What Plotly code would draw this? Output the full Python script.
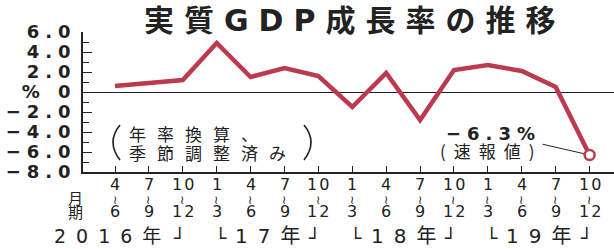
import plotly.graph_objects as go

# ---------------- data ----------------
start_months = ["4", "7", "10", "1", "4", "7", "10", "1", "4", "7", "10", "1", "4", "7", "10"]
end_months = ["6", "9", "12", "3", "6", "9", "12", "3", "6", "9", "12", "3", "6", "9", "12"]
growth = [0.6, 0.9, 1.2, 4.9, 1.5, 2.4, 1.6, -1.5, 1.9, -2.8, 2.2, 2.7, 2.1, 0.5, -6.3]
y_ticks = [6, 4, 2, 0, -2, -4, -6, -8]
y_tick_labels = ["6.0", "4.0", "2.0", "% 0", "−2.0", "−4.0", "−6.0", "−8.0"]
year_labels = ["2016年", "17年", "18年", "19年"]
year_first = [0, 3, 7, 11]
year_last = [2, 6, 10, 14]
title_text = "実質GDP成長率の推移"
note_lines = ["年率換算、", "季節調整済み"]
last_label = "−6.3%"
last_note = "(速報値)"

# ---------------- layout helpers ----------------
W, H = 614, 249
L, R, T, B = 83, 0, 32, 77
PW, PH = W - L - R, H - T - B


def px(xp):
    return (xp - L) / PW


def py(yp):
    return (H - B - yp) / PH


def sp(t, ls):
    return f'<span style="letter-spacing:{ls}px">{t}</span>' if ls else t


RED = "#bc3a4e"
INK = "#222222"
NUM = "DejaVu Sans, Noto Sans CJK JP, sans-serif"
JP = "Noto Sans CJK JP, sans-serif"

x = list(range(len(growth)))

fig = go.Figure()
fig.add_trace(go.Scatter(x=x, y=growth, mode="lines",
                         line=dict(color=RED, width=4.5), hoverinfo="skip"))
fig.add_trace(go.Scatter(x=[x[-1]], y=[growth[-1]], mode="markers",
                         marker=dict(symbol="circle", size=10, color="white",
                                     line=dict(color=RED, width=2.5)),
                         hoverinfo="skip"))

ann = []


def add(text, xx, yy, size, family=NUM, xref="paper", yref="paper",
        xanchor="center", yanchor="middle", ls=0, xshift=0, yshift=0, **kw):
    ann.append(dict(text=sp(text, ls), x=xx, y=yy, xref=xref, yref=yref,
                    xanchor=xanchor, yanchor=yanchor, showarrow=False,
                    xshift=xshift, yshift=yshift,
                    font=dict(family=family, size=size, color=INK), **kw))


# title
add("<b>" + title_text + "</b>", px(355), py(20), 30, family=NUM, ls=10)

# x category labels (three rows)
for i in x:
    add(start_months[i], i, py(184), 16, xref="x", ls=2, xshift=1)
    add("≀", i, py(200), 12, xref="x")
    add(end_months[i], i, py(212), 16, xref="x", ls=2, xshift=1)

add("月", px(75), py(197), 15, family=JP)
add("期", px(75), py(211), 15, family=JP)

# year labels with brackets
for k, lab in enumerate(year_labels):
    add("┘", year_last[k], py(237), 19, xref="x", xanchor="right", xshift=4)
    if k == 0:
        add(lab, year_last[k], py(236), 19, xref="x", xanchor="right", ls=10, xshift=-10)
    else:
        add("└", year_first[k], py(237), 19, xref="x", xanchor="left", xshift=-4)
        add(lab, (year_first[k] + year_last[k]) / 2, py(236), 20, xref="x", ls=10, xshift=5)

# note (年率換算、季節調整済み)
add(note_lines[0], px(127), py(133), 17, family=JP, xanchor="left", ls=11)
add(note_lines[1], px(127), py(152), 17, family=JP, xanchor="left", ls=11)
paren = dict(type="path", xref="paper", yref="paper",
             line=dict(color=INK, width=1.6))
shapes = [
    dict(paren, path=f"M {px(120)},{py(125)} Q {px(106)},{py(142)} {px(120)},{py(160)}"),
    dict(paren, path=f"M {px(304)},{py(125)} Q {px(318)},{py(142)} {px(304)},{py(160)}"),
]

# last value callout
ann.append(dict(text=sp("<b>" + last_label + "</b>", 6), x=x[-1], y=growth[-1],
                xref="x", yref="y", ax=-96, ay=-22, showarrow=True,
                arrowhead=0, arrowwidth=1, arrowcolor=INK, standoff=6,
                font=dict(family=NUM, size=18, color=INK)))
add(last_note, px(491), py(150), 17, family=JP, ls=8)

fig.update_layout(
    width=W, height=H,
    margin=dict(l=L, r=R, t=T, b=B, pad=0),
    paper_bgcolor="white", plot_bgcolor="white",
    showlegend=False,
    annotations=ann,
    shapes=shapes,
    xaxis=dict(range=[-0.944, 14.72], tickvals=x, ticks="inside", ticklen=6,
               tickwidth=1, tickcolor=INK, showticklabels=False,
               showline=True, linecolor=INK, linewidth=1.5,
               showgrid=False, zeroline=False, fixedrange=True),
    yaxis=dict(range=[-8, 6], tickvals=y_ticks,
               ticktext=[sp("<b>" + t + "</b>", 6) for t in y_tick_labels],
               ticks="inside", ticklen=9, tickwidth=1.2, tickcolor=INK,
               showline=True, linecolor=INK, linewidth=1.5,
               showgrid=False, zeroline=True, zerolinecolor=INK, zerolinewidth=1.2,
               tickfont=dict(family=NUM, size=18, color=INK),
               ticklabelstandoff=1,
               minor=dict(dtick=1, tick0=0, ticks="inside", ticklen=6,
                          tickcolor=INK, tickwidth=1),
               fixedrange=True),
)

fig.write_html("out.html", config={"displayModeBar": False},
               post_script="document.body.style.margin='0px';")
